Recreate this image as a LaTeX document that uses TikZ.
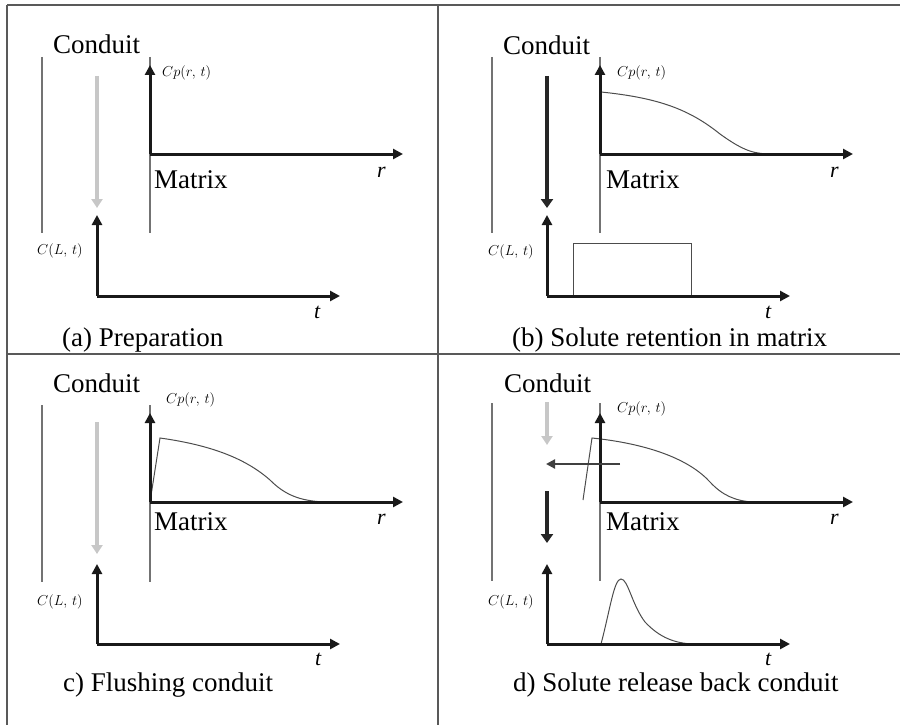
\documentclass[tikz,border=0pt]{standalone}
\usepackage{fontspec}
\setmainfont{Liberation Serif}
\usetikzlibrary{arrows.meta}
\begin{document}
\begin{tikzpicture}[x=1pt,y=-1pt,
  frameline/.style={line width=1.5pt, draw=black!65},
  wallline/.style={line width=1.2pt, draw=black!55},
  axisarrow/.style={line width=3pt, draw=black!90, -{Triangle[length=10pt,width=10pt]}},
  lightflow/.style={line width=4pt, draw=black!22, -{Triangle[length=9pt,width=11pt]}},
  darkflow/.style={line width=4pt, draw=black!85, -{Triangle[length=9pt,width=12pt]}},
  sideflow/.style={line width=2.2pt, draw=black!75, -{Triangle[length=9pt,width=9pt]}},
  plotcurve/.style={line width=1pt, draw=black!70},
  bigtext/.style={inner sep=0pt, anchor=base west, font=\fontsize{27}{30}\selectfont},
  vartext/.style={inner sep=0pt, anchor=base west, font=\fontsize{22}{24}\selectfont\itshape},
  smalltext/.style={inner sep=0pt, anchor=base west, font=\fontsize{15}{17}\selectfont},
]
\useasboundingbox (0,0) rectangle (900,725);

% frame
\coordinate (ftl) at (7,5);
\coordinate (ftr) at (900,5);
\coordinate (fbl) at (7,725);
\coordinate (fmt) at (438,5);
\coordinate (fmb) at (438,725);
\coordinate (fml) at (7,354);
\coordinate (fmr) at (900,354);
\draw[frameline] (ftl) -- (ftr);
\draw[frameline] (ftl) -- (fbl);
\draw[frameline] (fmt) -- (fmb);
\draw[frameline] (fml) -- (fmr);

% ---------------- panel (a)
\coordinate (aW1) at (42,57);  \coordinate (aW2) at (42,233);
\coordinate (aM1) at (150,57); \coordinate (aM2) at (150,233);
\coordinate (aO) at (150,154); \coordinate (aY) at (150,65); \coordinate (aR) at (403,154);
\coordinate (aF1) at (97,76);  \coordinate (aF2) at (97,208);
\coordinate (aC) at (97,296);  \coordinate (aCY) at (97,215); \coordinate (aCT) at (340,296);
\draw[wallline] (aW1) -- (aW2);
\draw[wallline] (aM1) -- (aM2);
\draw[axisarrow] (aO) -- (aY);
\draw[axisarrow] (aO) -- (aR);
\draw[lightflow] (aF1) -- (aF2);
\draw[axisarrow] (aC) -- (aCY);
\draw[axisarrow] (aC) -- (aCT);
\node[bigtext] (aCond) at (53,54) {Conduit};
\node[bigtext] (aMat) at (154,188) {Matrix};
\node[smalltext] (aCp) at (162,77) {$Cp(r,\,t)$};
\node[smalltext] (aCL) at (37,254) {$C(L,\,t)$};
\node[vartext] (ar) at (377,177) {r};
\node[vartext] (at) at (314,318) {t};
\node[bigtext] (aCap) at (62,346) {(a) Preparation};

% ---------------- panel (b)
\coordinate (bW1) at (492,57);  \coordinate (bW2) at (492,233);
\coordinate (bM1) at (600,57);  \coordinate (bM2) at (600,233);
\coordinate (bO) at (600,154);  \coordinate (bY) at (600,65); \coordinate (bR) at (853,154);
\coordinate (bF1) at (547,76);  \coordinate (bF2) at (547,208);
\coordinate (bC) at (547,296);  \coordinate (bCY) at (547,215); \coordinate (bCT) at (790,296);
\draw[wallline] (bW1) -- (bW2);
\draw[wallline] (bM1) -- (bM2);
\draw[plotcurve] (601,92) .. controls (660,98) and (690,110) .. (720,134) .. controls (745,152) and (755,154) .. (773,154);
\draw[plotcurve] (573,296) rectangle (691,243);
\draw[axisarrow] (bO) -- (bY);
\draw[axisarrow] (bO) -- (bR);
\draw[darkflow] (bF1) -- (bF2);
\draw[axisarrow] (bC) -- (bCY);
\draw[axisarrow] (bC) -- (bCT);
\node[bigtext] (bCond) at (503,55) {Conduit};
\node[bigtext] (bMat) at (606,188) {Matrix};
\node[smalltext] (bCp) at (617,77) {$Cp(r,\,t)$};
\node[smalltext] (bCL) at (488,255) {$C(L,\,t)$};
\node[vartext] (br) at (830,177) {r};
\node[vartext] (bt) at (765,318) {t};
\node[bigtext] (bCap) at (512,346) {(b) Solute retention in matrix};

% ---------------- panel (c)
\coordinate (cW1) at (42,405);  \coordinate (cW2) at (42,582);
\coordinate (cM1) at (150,405); \coordinate (cM2) at (150,582);
\coordinate (cO) at (150,502);  \coordinate (cY) at (150,413); \coordinate (cR) at (403,502);
\coordinate (cF1) at (97,422);  \coordinate (cF2) at (97,554);
\coordinate (cC) at (97,644);   \coordinate (cCY) at (97,564); \coordinate (cCT) at (340,644);
\draw[wallline] (cW1) -- (cW2);
\draw[wallline] (cM1) -- (cM2);
\draw[plotcurve] (150,502) -- (160,438) .. controls (210,445) and (245,458) .. (270,480) .. controls (285,495) and (300,501) .. (325,502);
\draw[axisarrow] (cO) -- (cY);
\draw[axisarrow] (cO) -- (cR);
\draw[lightflow] (cF1) -- (cF2);
\draw[axisarrow] (cC) -- (cCY);
\draw[axisarrow] (cC) -- (cCT);
\node[bigtext] (cCond) at (53,392) {Conduit};
\node[bigtext] (cMat) at (154,530) {Matrix};
\node[smalltext] (cCp) at (166,403) {$Cp(r,\,t)$};
\node[smalltext] (cCL) at (37,605) {$C(L,\,t)$};
\node[vartext] (cr) at (377,524) {r};
\node[vartext] (ct) at (315,665) {t};
\node[bigtext] (cCap) at (63,691) {c) Flushing conduit};

% ---------------- panel (d)
\coordinate (dW1) at (492,403);  \coordinate (dW2) at (492,581);
\coordinate (dM1) at (600,403);  \coordinate (dM2) at (600,581);
\coordinate (dO) at (600,502);   \coordinate (dY) at (600,413); \coordinate (dR) at (853,502);
\coordinate (dF1) at (547,402);  \coordinate (dF2) at (547,445);
\coordinate (dS1) at (620,464);  \coordinate (dS2) at (546,464);
\coordinate (dG1) at (547,491);  \coordinate (dG2) at (547,543);
\coordinate (dC) at (547,644);   \coordinate (dCY) at (547,564); \coordinate (dCT) at (790,644);
\draw[wallline] (dW1) -- (dW2);
\draw[wallline] (dM1) -- (dM2);
\draw[plotcurve] (583,500) -- (592,438) .. controls (650,444) and (690,460) .. (710,482) .. controls (722,495) and (735,501) .. (753,502);
\draw[plotcurve] (601,644) .. controls (610,610) and (614,579) .. (621,579) .. controls (628,579) and (632,605) .. (645,622) .. controls (660,638) and (675,643) .. (692,644);
\draw[axisarrow] (dO) -- (dY);
\draw[axisarrow] (dO) -- (dR);
\draw[lightflow] (dF1) -- (dF2);
\draw[sideflow] (dS1) -- (dS2);
\draw[darkflow] (dG1) -- (dG2);
\draw[axisarrow] (dC) -- (dCY);
\draw[axisarrow] (dC) -- (dCT);
\node[bigtext] (dCond) at (504,392) {Conduit};
\node[bigtext] (dMat) at (606,530) {Matrix};
\node[smalltext] (dCp) at (617,412) {$Cp(r,\,t)$};
\node[smalltext] (dCL) at (488,605) {$C(L,\,t)$};
\node[vartext] (dr) at (830,524) {r};
\node[vartext] (dt) at (765,665) {t};
\node[bigtext] (dCap) at (513,691) {d) Solute release back conduit};
\end{tikzpicture}
\end{document}
